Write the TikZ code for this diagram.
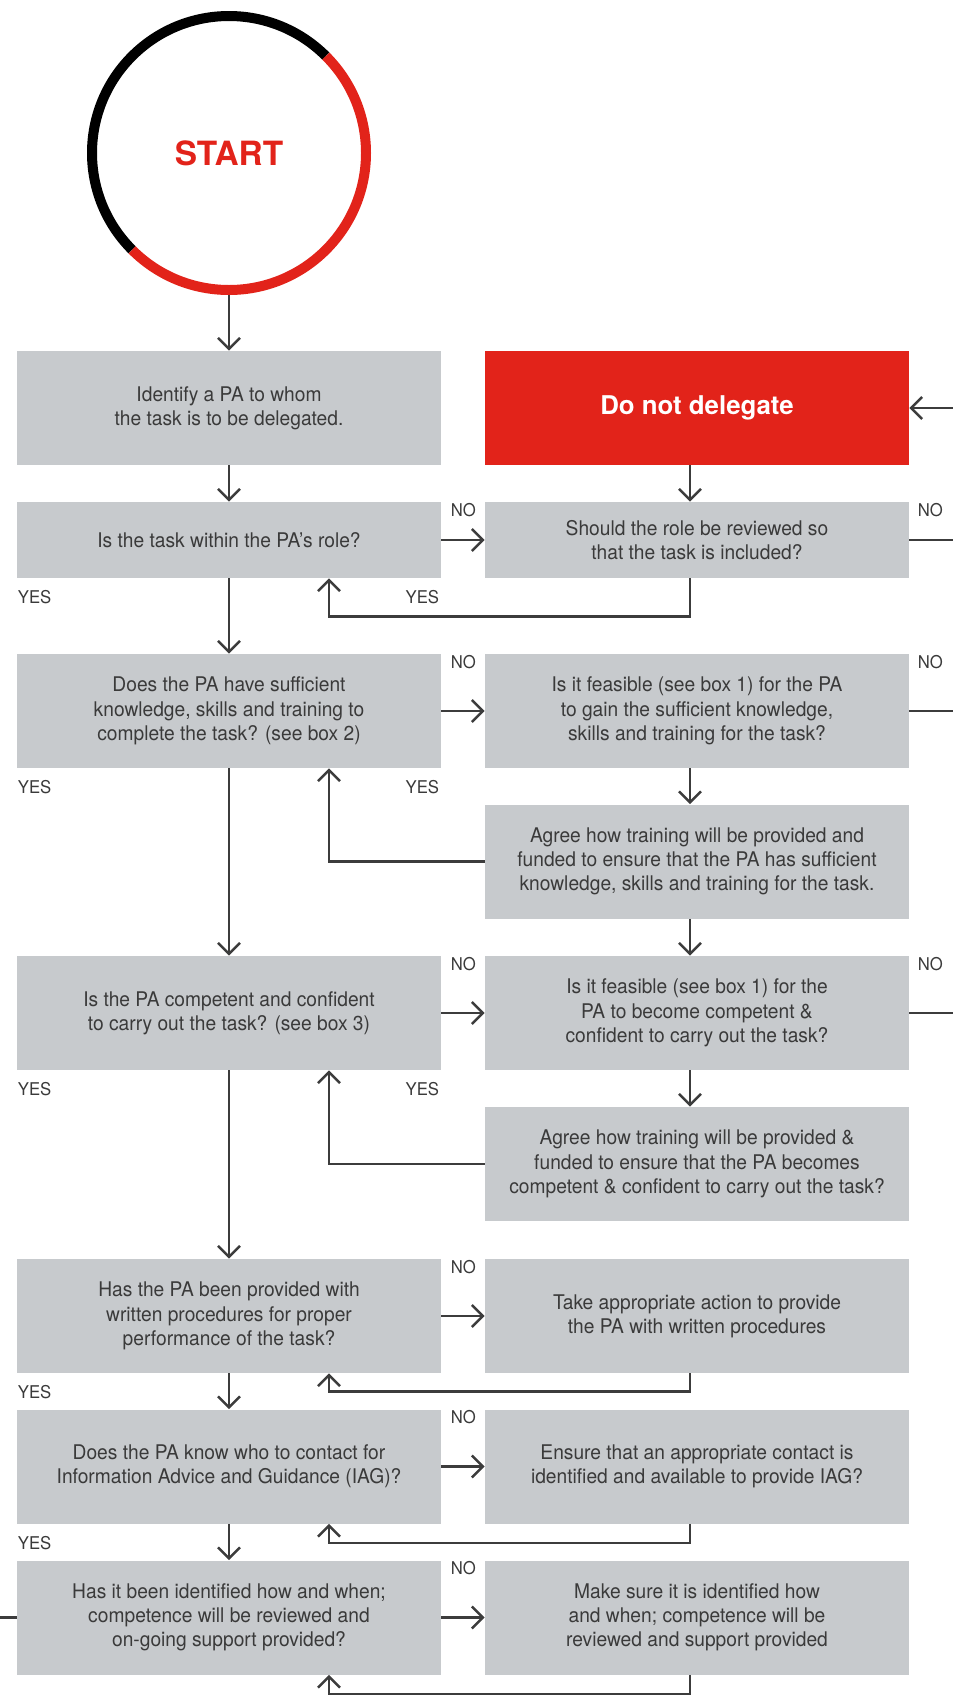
\documentclass[tikz,border=0pt]{standalone}
\usepackage{fontspec}
\setmainfont{TeX Gyre Heros}[FakeStretch=0.95]
\newfontfamily\headfont{TeX Gyre Heros}
\usetikzlibrary{arrows.meta}

\definecolor{boxgrey}{HTML}{C7CACD}
\definecolor{pared}{HTML}{E2231A}
\definecolor{linegrey}{HTML}{3C3C3C}
\definecolor{textgrey}{HTML}{3A3A3A}

\begin{document}
\begin{tikzpicture}[
    box/.style={
        fill=boxgrey,
        minimum width=8.48cm,
        minimum height=2.28cm,
        inner sep=0pt,
        align=center,
        text=textgrey,
        font=\fontsize{11.5}{13.8}\selectfont
    },
    shortbox/.style={box, minimum height=1.52cm},
    answer/.style={text=textgrey, inner sep=0pt, font=\fontsize{10}{12}\selectfont},
    link/.style={draw=linegrey, line width=0.05cm},
    flow/.style={link, -{Straight Barb[length=0.22cm,width=0.44cm]}}
]
    \useasboundingbox (0,0) rectangle (19.06,-34);

    % start ring
    \node[circle, minimum size=5.68cm, inner sep=0pt, text=pared,
        font=\headfont\bfseries\fontsize{19}{22}\selectfont] (start) at (4.58,-3.06) {START};
    \draw[black, line width=0.2cm] (start.center) ++(45:2.74)
        arc[start angle=45, end angle=225, radius=2.74];
    \draw[pared, line width=0.2cm] (start.center) ++(45:2.74)
        arc[start angle=45, end angle=-135, radius=2.74];

    % left column
    \node[box] (identify) at (4.58,-8.16)
        {Identify a PA to whom\\the task is to be delegated.};
    \node[shortbox] (role) at (4.58,-10.80)
        {Is the task within the PA's role?};
    \node[box] (knowledge) at (4.58,-14.22)
        {Does the PA have sufficient\\knowledge, skills and training to\\complete the task? (see box 2)};
    \node[box] (competent) at (4.58,-20.26)
        {Is the PA competent and confident\\to carry out the task? (see box 3)};
    \node[box] (written) at (4.58,-26.32)
        {Has the PA been provided with\\written procedures for proper\\performance of the task?};
    \node[box] (contact) at (4.58,-29.33)
        {Does the PA know who to contact for\\Information Advice and Guidance (IAG)?};
    \node[box] (support) at (4.58,-32.35)
        {Has it been identified how and when;\\competence will be reviewed and\\on-going support provided?};

    % right column
    \node[box, fill=pared, text=white,
        font=\headfont\bfseries\fontsize{14.7}{17}\selectfont] (nodelegate) at (13.94,-8.16)
        {Do not delegate};
    \node[shortbox] (review) at (13.94,-10.80)
        {Should the role be reviewed so\\that the task is included?};
    \node[box] (gain) at (13.94,-14.22)
        {Is it feasible (see box 1) for the PA\\to gain the sufficient knowledge,\\skills and training for the task?};
    \node[box] (fundtrain) at (13.94,-17.23)
        {Agree how training will be provided and\\funded to ensure that the PA has sufficient\\knowledge, skills and training for the task.};
    \node[box] (become) at (13.94,-20.26)
        {Is it feasible (see box 1) for the\\PA to become competent \&\\confident to carry out the task?};
    \node[box] (fundcomp) at (13.94,-23.28)
        {Agree how training will be provided \&\\funded to ensure that the PA becomes\\competent \& confident to carry out the task?};
    \node[box] (provide) at (13.94,-26.32)
        {Take appropriate action to provide\\the PA with written procedures};
    \node[box] (ensure) at (13.94,-29.33)
        {Ensure that an appropriate contact is\\identified and available to provide IAG?};
    \node[box] (makesure) at (13.94,-32.35)
        {Make sure it is identified how\\and when; competence will be\\reviewed and support provided};

    % loose ends at the page edges
    \coordinate (backin) at (19.06,-8.16);
    \coordinate (reviewout) at (19.06,-10.80);
    \coordinate (gainout) at (19.06,-14.22);
    \coordinate (becomeout) at (19.06,-20.26);
    \coordinate (supportout) at (0,-32.35);

    % YES / NO
    \node[answer] (no1) at ([xshift=0.44cm,yshift=-0.16cm]role.north east) {NO};
    \node[answer] (no1r) at ([xshift=0.42cm,yshift=-0.16cm]review.north east) {NO};
    \node[answer] (yes1) at ([xshift=0.36cm,yshift=-0.38cm]role.south west) {YES};
    \node[answer] (yes1r) at ([xshift=-0.38cm,yshift=-0.38cm]role.south east) {YES};
    \node[answer] (no2) at ([xshift=0.44cm,yshift=-0.16cm]knowledge.north east) {NO};
    \node[answer] (no2r) at ([xshift=0.42cm,yshift=-0.16cm]gain.north east) {NO};
    \node[answer] (yes2) at ([xshift=0.36cm,yshift=-0.38cm]knowledge.south west) {YES};
    \node[answer] (yes2r) at ([xshift=-0.38cm,yshift=-0.38cm]knowledge.south east) {YES};
    \node[answer] (no3) at ([xshift=0.44cm,yshift=-0.16cm]competent.north east) {NO};
    \node[answer] (no3r) at ([xshift=0.42cm,yshift=-0.16cm]become.north east) {NO};
    \node[answer] (yes3) at ([xshift=0.36cm,yshift=-0.38cm]competent.south west) {YES};
    \node[answer] (yes3r) at ([xshift=-0.38cm,yshift=-0.38cm]competent.south east) {YES};
    \node[answer] (no4) at ([xshift=0.44cm,yshift=-0.16cm]written.north east) {NO};
    \node[answer] (yes4) at ([xshift=0.36cm,yshift=-0.38cm]written.south west) {YES};
    \node[answer] (no5) at ([xshift=0.44cm,yshift=-0.16cm]contact.north east) {NO};
    \node[answer] (yes5) at ([xshift=0.36cm,yshift=-0.38cm]contact.south west) {YES};
    \node[answer] (no6) at ([xshift=0.44cm,yshift=-0.16cm]support.north east) {NO};

    % main line
    \draw[flow] (start.south) -- (identify.north);
    \draw[flow] (identify) -- (role);
    \draw[flow] (role) -- (knowledge);
    \draw[flow] (knowledge) -- (competent);
    \draw[flow] (competent) -- (written);
    \draw[flow] (written) -- (contact);
    \draw[flow] (contact) -- (support);

    % NO branches
    \draw[flow] (role) -- (review);
    \draw[flow] (knowledge) -- (gain);
    \draw[flow] (competent) -- (become);
    \draw[flow] (written) -- (provide);
    \draw[flow] (contact) -- (ensure);
    \draw[flow] (support) -- (makesure);

    % right column downwards
    \draw[flow] ([xshift=-0.14cm]nodelegate.south) -- ([xshift=-0.14cm]review.north);
    \draw[flow] ([xshift=-0.14cm]gain.south) -- ([xshift=-0.14cm]fundtrain.north);
    \draw[flow] ([xshift=-0.14cm]fundtrain.south) -- ([xshift=-0.14cm]become.north);
    \draw[flow] ([xshift=-0.14cm]become.south) -- ([xshift=-0.14cm]fundcomp.north);

    % back to the left column
    \draw[flow] ([xshift=-0.14cm]review.south) -- ++(0,-0.76) -| ([xshift=2cm]role.south);
    \draw[flow] (fundtrain.west) -| ([xshift=2cm]knowledge.south);
    \draw[flow] (fundcomp.west) -| ([xshift=2cm]competent.south);
    \draw[flow] ([xshift=-0.14cm]provide.south) -- ++(0,-0.36) -| ([xshift=2cm]written.south);
    \draw[flow] ([xshift=-0.14cm]ensure.south) -- ++(0,-0.38) -| ([xshift=2cm]contact.south);
    \draw[flow] ([xshift=-0.14cm]makesure.south) -- ++(0,-0.38) -| ([xshift=2cm]support.south);

    % off-page links
    \draw[flow] (backin) -- (nodelegate.east);
    \draw[link] (review.east) -- (reviewout);
    \draw[link] (gain.east) -- (gainout);
    \draw[link] (become.east) -- (becomeout);
    \draw[link] (support.west) -- (supportout);
\end{tikzpicture}
\end{document}
